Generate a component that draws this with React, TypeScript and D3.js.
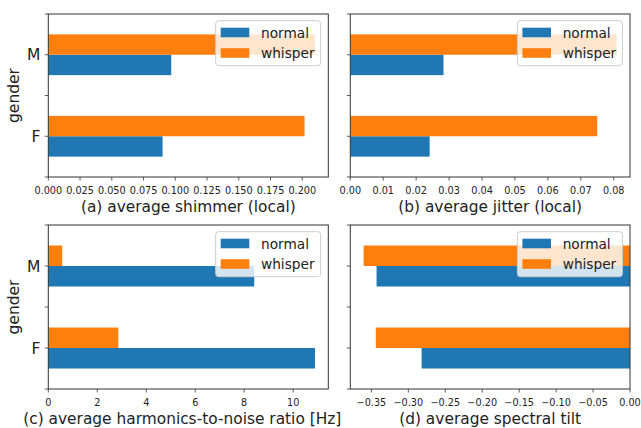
import React, { useRef, useEffect } from "react";
import * as d3 from "d3";

// gender categories, bottom to top
const genders = ["F", "M"];
const seriesNames = ["normal", "whisper"];
const seriesColors = ["#1f77b4", "#ff7f0e"];

// values per gender [F, M]
const shimmerNormal = [0.09, 0.0968];
const shimmerWhisper = [0.2018, 0.21];
const jitterNormal = [0.0241, 0.0283];
const jitterWhisper = [0.075, 0.0809];
const hnrNormal = [10.89, 8.41];
const hnrWhisper = [2.86, 0.57];
const tiltNormal = [-0.282, -0.343];
const tiltWhisper = [-0.344, -0.3605];

const shimmerTicks = [0, 0.025, 0.05, 0.075, 0.1, 0.125, 0.15, 0.175, 0.2];
const jitterTicks = [0, 0.01, 0.02, 0.03, 0.04, 0.05, 0.06, 0.07, 0.08];
const hnrTicks = [0, 2, 4, 6, 8, 10];
const tiltTicks = [-0.35, -0.3, -0.25, -0.2, -0.15, -0.1, -0.05, 0];

const panels = [
  { label: "(a) average shimmer (local)", normal: shimmerNormal, whisper: shimmerWhisper, ticks: shimmerTicks, fmt: ".3f",
    box: { left: 48.3, right: 328.3, top: 14, bottom: 177 }, showY: true, labelDx: 0 },
  { label: "(b) average jitter (local)", normal: jitterNormal, whisper: jitterWhisper, ticks: jitterTicks, fmt: ".2f",
    box: { left: 350.3, right: 630, top: 14, bottom: 177 }, showY: false, labelDx: 0 },
  { label: "(c) average harmonics-to-noise ratio [Hz]", normal: hnrNormal, whisper: hnrWhisper, ticks: hnrTicks, fmt: "d",
    box: { left: 48.3, right: 328.3, top: 225, bottom: 389 }, showY: true, labelDx: -6 },
  { label: "(d) average spectral tilt", normal: tiltNormal, whisper: tiltWhisper, ticks: tiltTicks, fmt: ".2f",
    box: { left: 350.3, right: 630, top: 225, bottom: 389 }, showY: false, labelDx: 0 },
];

const FONT = "DejaVu Sans, sans-serif";

const App = () => {
  const svgRef = useRef<SVGSVGElement>(null);

  useEffect(() => {
    const svg = d3.select(svgRef.current);
    svg.selectAll("*").remove();

    panels.forEach((p) => {
      const { left, right, top, bottom } = p.box;
      const all = [...p.normal, ...p.whisper];
      const lo = Math.min(0, d3.min(all) as number);
      const hi = Math.max(0, d3.max(all) as number);
      const pad = (hi - lo) * 0.05;
      const x = d3.scaleLinear()
        .domain([lo < 0 ? lo - pad : 0, hi > 0 ? hi + pad : 0])
        .range([left, right]);
      const y = d3.scaleLinear().domain([-0.5, 1.5]).range([bottom, top]);
      const g = svg.append("g");

      // bars
      [p.normal, p.whisper].forEach((vals, si) => {
        g.selectAll(null)
          .data(vals)
          .enter()
          .append("rect")
          .attr("x", (d) => Math.min(x(0), x(d)))
          .attr("width", (d) => Math.abs(x(d) - x(0)))
          .attr("y", (d, i) => y(i + (si === 0 ? 0 : 0.25)))
          .attr("height", y(0) - y(0.25))
          .attr("fill", seriesColors[si]);
      });

      // spines
      g.append("rect")
        .attr("x", left).attr("y", top)
        .attr("width", right - left).attr("height", bottom - top)
        .attr("fill", "none").attr("stroke", "#333").attr("stroke-width", 1);

      // x ticks
      const fmt = d3.format(p.fmt);
      p.ticks.forEach((t) => {
        g.append("line")
          .attr("x1", x(t)).attr("x2", x(t))
          .attr("y1", bottom).attr("y2", bottom + 3.5)
          .attr("stroke", "#333").attr("stroke-width", 0.8);
        g.append("text")
          .attr("x", x(t)).attr("y", bottom + 16.7)
          .attr("text-anchor", "middle")
          .attr("font-family", FONT).attr("font-size", 9.7)
          .attr("fill", "#222")
          .text(fmt(t).replace("-", "\u2212"));
      });

      // y ticks (major at categories, minor between)
      [-0.5, 0, 0.5, 1, 1.5].forEach((v) => {
        g.append("line")
          .attr("x1", left - 3.5).attr("x2", left)
          .attr("y1", y(v)).attr("y2", y(v))
          .attr("stroke", "#333").attr("stroke-width", 0.8);
      });
      if (p.showY) {
        genders.forEach((gname, i) => {
          g.append("text")
            .attr("x", left - 8).attr("y", y(i)).attr("dy", "0.36em")
            .attr("text-anchor", "end")
            .attr("font-family", FONT).attr("font-size", 15.5)
            .attr("fill", "#222")
            .text(gname);
        });
        g.append("text")
          .attr("transform", `translate(19,${(top + bottom) / 2}) rotate(-90)`)
          .attr("text-anchor", "middle")
          .attr("font-family", FONT).attr("font-size", 15.5)
          .attr("fill", "#222")
          .text("gender");
      }

      // x label
      g.append("text")
        .attr("x", (left + right) / 2 + p.labelDx).attr("y", bottom + 34.5)
        .attr("text-anchor", "middle")
        .attr("font-family", FONT).attr("font-size", 15.4)
        .attr("fill", "#222")
        .text(p.label);

      // legend
      const lx = right - 7.6 - 105;
      const ly = top + 6.7;
      const leg = g.append("g").attr("transform", `translate(${lx},${ly})`);
      leg.append("rect")
        .attr("width", 105).attr("height", 45).attr("rx", 3)
        .attr("fill", "white").attr("fill-opacity", 0.8)
        .attr("stroke", "#ccc").attr("stroke-width", 1);
      seriesNames.forEach((name, i) => {
        leg.append("rect")
          .attr("x", 5).attr("y", 7 + i * 20.5)
          .attr("width", 28.6).attr("height", 9.6)
          .attr("fill", seriesColors[i]);
        leg.append("text")
          .attr("x", 45.3).attr("y", 17 + i * 20.2)
          .attr("font-family", FONT).attr("font-size", 13.7)
          .attr("fill", "#222")
          .text(name);
      });
    });
  }, []);

  return (
    <svg
      ref={svgRef}
      width={641}
      height={428}
      style={{ position: "absolute", left: 0, top: 0, background: "white" }}
    />
  );
};

export default App;
